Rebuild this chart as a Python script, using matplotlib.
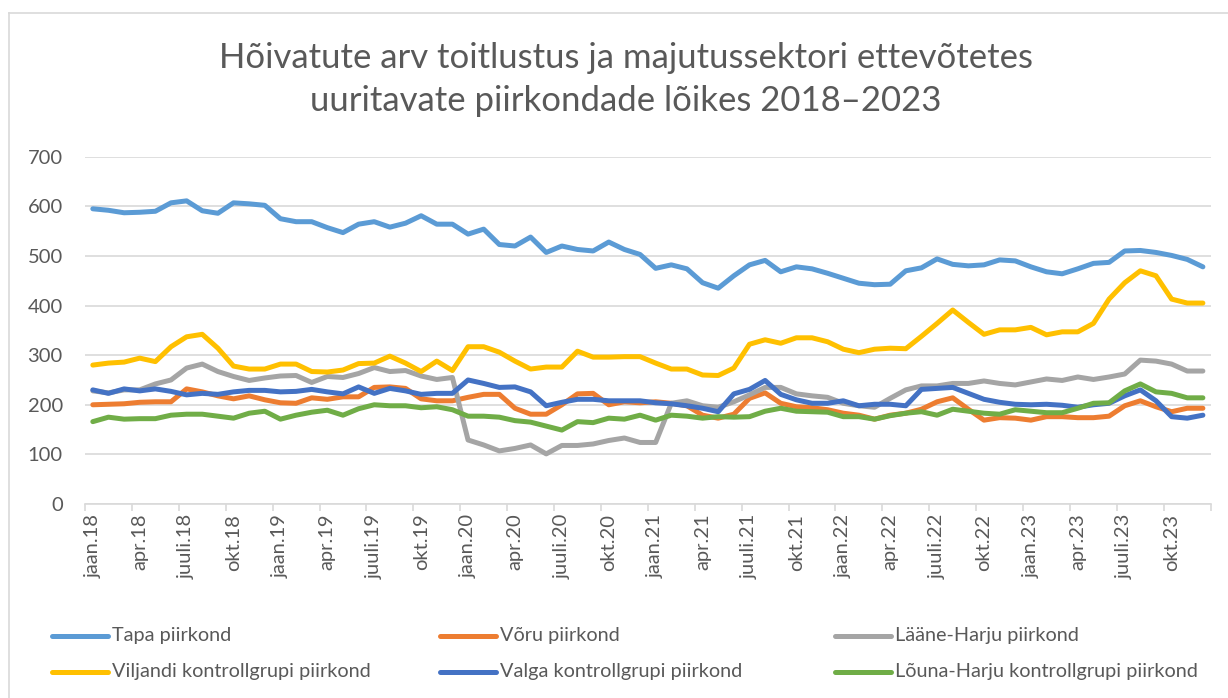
import matplotlib
matplotlib.use("Agg")
import matplotlib.pyplot as plt
from matplotlib.lines import Line2D

months = ["jaan.", "veebr.", "märts", "apr.", "mai", "juuni", "juuli", "aug.", "sept.", "okt.", "nov.", "dets."]
years = ["18", "19", "20", "21", "22", "23"]
categories = [f"{m}{y}" if m.endswith(".") else f"{m}.{y}" for y in years for m in months]

tapa = [595, 592, 587, 588, 590, 607, 611, 591, 586, 607, 605, 602,
        575, 569, 569, 557, 547, 564, 569, 558, 566, 581, 564, 564,
        544, 554, 523, 520, 538, 507, 520, 513, 510, 528, 513, 503,
        475, 482, 474, 446, 435, 460, 482, 491, 468, 478, 474, 465,
        455, 445, 442, 443, 470, 476, 494, 483, 480, 482, 492, 490,
        478, 468, 464, 474, 485, 487, 510, 511, 507, 501, 493, 478]
voru = [200, 201, 202, 205, 206, 206, 232, 226, 218, 212, 218, 210,
        204, 203, 214, 211, 216, 216, 235, 236, 233, 212, 208, 208,
        215, 221, 221, 193, 181, 181, 200, 222, 223, 200, 206, 204,
        206, 203, 198, 179, 173, 181, 213, 224, 203, 196, 194, 190,
        183, 179, 171, 179, 183, 191, 206, 214, 191, 169, 174, 173,
        169, 176, 176, 174, 174, 177, 198, 208, 196, 186, 193, 193]
laane_harju = [228, 224, 230, 230, 242, 250, 274, 282, 267, 257, 249, 254,
               258, 259, 245, 257, 255, 263, 275, 267, 269, 258, 251, 255,
               129, 119, 107, 112, 119, 101, 118, 118, 121, 128, 133, 124,
               124, 203, 208, 198, 195, 206, 220, 235, 235, 222, 218, 215,
               203, 198, 195, 213, 230, 238, 238, 243, 243, 248, 243, 240,
               246, 252, 249, 256, 251, 256, 262, 290, 288, 282, 268, 268]
viljandi = [280, 284, 286, 294, 287, 317, 337, 342, 314, 278, 272, 272,
            282, 282, 267, 266, 270, 283, 284, 298, 284, 267, 288, 269,
            317, 317, 306, 288, 272, 276, 276, 308, 296, 296, 297, 297,
            284, 272, 272, 260, 259, 274, 322, 331, 324, 335, 335, 327,
            312, 305, 312, 314, 313, 338, 364, 391, 366, 342, 351, 351,
            356, 341, 347, 347, 364, 413, 446, 470, 460, 413, 405, 405]
valga = [230, 223, 232, 228, 232, 227, 220, 223, 221, 226, 229, 229,
         226, 227, 231, 226, 222, 236, 223, 233, 228, 221, 223, 223,
         250, 243, 235, 236, 226, 198, 205, 211, 211, 208, 208, 208,
         204, 202, 198, 193, 186, 222, 231, 249, 221, 210, 203, 203,
         208, 198, 201, 201, 198, 231, 233, 235, 223, 211, 205, 201,
         200, 201, 199, 195, 200, 203, 218, 230, 208, 176, 173, 179]
louna_harju = [166, 175, 171, 172, 172, 179, 181, 181, 177, 173, 183, 187,
               171, 179, 185, 189, 179, 192, 200, 198, 198, 194, 196, 190,
               177, 177, 175, 168, 165, 157, 149, 166, 164, 173, 171, 179,
               169, 179, 177, 173, 176, 175, 176, 187, 193, 187, 186, 185,
               176, 176, 171, 178, 183, 186, 179, 191, 187, 183, 181, 190,
               187, 184, 184, 193, 203, 204, 228, 242, 226, 223, 214, 214]

series_names = ["Tapa piirkond", "Võru piirkond", "Lääne-Harju piirkond",
                "Viljandi kontrollgrupi piirkond", "Valga kontrollgrupi piirkond",
                "Lõuna-Harju kontrollgrupi piirkond"]
series_values = [tapa, voru, laane_harju, viljandi, valga, louna_harju]
series_colors = ["#5B9BD5", "#ED7D31", "#A5A5A5", "#FFC000", "#4472C4", "#70AD47"]

title_lines = ["Hõivatute arv toitlustus ja majutussektori ettevõtetes",
               "uuritavate piirkondade lõikes 2018–2023"]
yticks = [0, 100, 200, 300, 400, 500, 600, 700]

plt.rcParams['font.family'] = ['Lato', 'DejaVu Sans']
TXT = "#595959"
GRID = "#D9D9D9"

W, H = 1228, 698
fig = plt.figure(figsize=(W / 100, H / 100), dpi=100)
ax = fig.add_axes([85 / W, 1 - 504 / H, (1210.7 - 85) / W, (504 - 156.7) / H])

x = list(range(len(categories)))
for name, vals, col in zip(series_names, series_values, series_colors):
    ax.plot(x, vals, color=col, linewidth=3.6, solid_capstyle='round', solid_joinstyle='round', label=name)

ax.set_xlim(-0.5, len(categories) - 0.5)
ax.set_ylim(0, 700)
ax.set_yticks(yticks)
ax.set_yticklabels([str(v) for v in yticks], fontsize=14.5, color=TXT)
ax.yaxis.grid(True, color=GRID, linewidth=1.2)
ax.set_axisbelow(True)
ax.tick_params(axis='y', length=0, pad=16)

label_pos = list(range(0, len(categories), 3))
ax.set_xticks(label_pos)
ax.set_xticklabels([categories[i] for i in label_pos], rotation=90, fontsize=14.5, color=TXT)
ax.set_xticks([p - 0.5 for p in range(0, len(categories) + 1, 3)], minor=True)
ax.tick_params(axis='x', which='major', length=0, pad=7)
ax.tick_params(axis='x', which='minor', length=5, color=GRID, width=1.2, direction='out')

for s in ['left', 'right', 'top']:
    ax.spines[s].set_visible(False)
ax.spines['bottom'].set_color(GRID)
ax.spines['bottom'].set_linewidth(1.2)

for line, base in zip(title_lines, [68, 111]):
    fig.text(626 / W, 1 - base / H, line, ha='center', va='baseline', fontsize=25, color=TXT)

# legend (row-major, 3 columns)
col_x = [52, 440, 835]
row_y = [636, 672]
for k, (name, col) in enumerate(zip(series_names, series_colors)):
    r, c = divmod(k, 3)
    x0 = col_x[c]
    yy = 1 - row_y[r] / H
    fig.add_artist(Line2D([x0 / W, (x0 + 56) / W], [yy, yy], color=col, linewidth=3.6,
                          solid_capstyle='round', transform=fig.transFigure))
    fig.text((x0 + 60) / W, yy, name, ha='left', va='center', fontsize=14.3, color=TXT)

# chart frame (left and top edges visible in the reference)
fig.add_artist(Line2D([9 / W, 9 / W], [0, 1 - 13 / H], color=GRID, linewidth=1.2, transform=fig.transFigure))
fig.add_artist(Line2D([9 / W, 1], [1 - 13 / H, 1 - 13 / H], color=GRID, linewidth=1.2, transform=fig.transFigure))

fig.savefig("out.png", dpi=100)
